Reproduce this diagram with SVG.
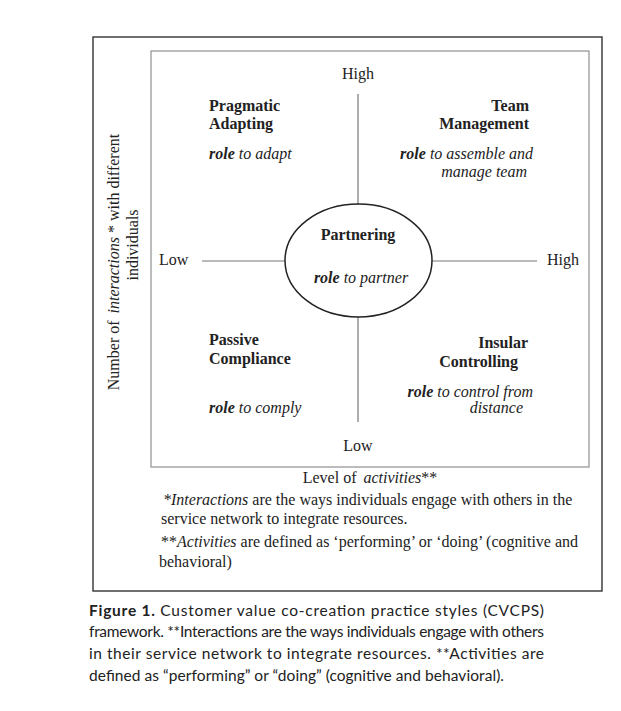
<svg xmlns="http://www.w3.org/2000/svg" width="621" height="711" viewBox="0 0 621 711">
<style>
.t{font-family:"Liberation Serif","Times New Roman",serif;font-size:16px;fill:#222}
.b{font-weight:bold}
.i{font-style:italic}
.r{text-anchor:end}
.m{text-anchor:middle}
.cap{font-family:"Lato","Open Sans",sans-serif;font-size:15.5px;fill:#222}
.ax{stroke:#777;stroke-width:1.2;fill:none}
</style>
<rect width="621" height="711" fill="#fff"/>
<rect x="93" y="37" width="509" height="554" fill="none" stroke="#333" stroke-width="1.4"/>
<rect x="151" y="51" width="438" height="416" fill="none" stroke="#999" stroke-width="1.3"/>
<g id="connectors">
<line class="ax" x1="358" y1="94" x2="358" y2="204"/>
<line class="ax" x1="358" y1="317" x2="358" y2="422"/>
<line class="ax" x1="202" y1="261" x2="285" y2="261"/>
<line class="ax" x1="432" y1="261" x2="537" y2="261"/>
</g>
<g id="axis-labels">
<text class="t m" x="358" y="79">High</text>
<text class="t m" x="358" y="451">Low</text>
<text class="t" x="159" y="265">Low</text>
<text class="t" x="547" y="265">High</text>
<text class="t m" x="370" y="483">Level of <tspan class="i" dx="3">activities</tspan>**</text>
<text class="t m" transform="translate(119,262) rotate(-90)">Number of <tspan class="i" dx="3">interactions</tspan> * with different</text>
<text class="t m" transform="translate(138,245) rotate(-90)">individuals</text>
</g>
<g id="pragmatic-adapting">
<text class="t b" x="209" y="111">Pragmatic</text>
<text class="t b" x="209" y="129">Adapting</text>
<text class="t i" x="209" y="159"><tspan class="b">role</tspan> to adapt</text>
</g>
<g id="team-management">
<text class="t b r" x="529" y="111">Team</text>
<text class="t b r" x="529" y="129">Management</text>
<text class="t i r" x="533" y="159"><tspan class="b">role</tspan> to assemble and</text>
<text class="t i r" x="527" y="177">manage team</text>
</g>
<g id="partnering">
<ellipse cx="358.5" cy="260.5" rx="73.5" ry="56.5" fill="#fff" stroke="#222" stroke-width="1.5"/>
<text class="t b m" x="358" y="240">Partnering</text>
<text class="t i m" x="361" y="283"><tspan class="b">role</tspan> to partner</text>
</g>
<g id="passive-compliance">
<text class="t b" x="209" y="345">Passive</text>
<text class="t b" x="209" y="364">Compliance</text>
<text class="t i" x="209" y="413"><tspan class="b">role</tspan> to comply</text>
</g>
<g id="insular-controlling">
<text class="t b r" x="528" y="348">Insular</text>
<text class="t b r" x="518" y="367">Controlling</text>
<text class="t i r" x="533" y="397"><tspan class="b">role</tspan> to control from</text>
<text class="t i r" x="523" y="413">distance</text>
</g>
<g id="footnotes">
<text class="t" x="163" y="505"><tspan class="i">*Interactions</tspan><tspan dx="4">are the ways individuals engage with others in the</tspan></text>
<text class="t" x="161" y="524">service network to integrate resources.</text>
<text class="t" x="161" y="547">**<tspan class="i">Activities</tspan> are defined as ‘performing’ or ‘doing’ (cognitive and</text>
<text class="t" x="159" y="567">behavioral)</text>
</g>
<g id="caption">
<text class="cap" x="89" y="616" textLength="455" lengthAdjust="spacing"><tspan font-weight="bold">Figure 1.</tspan> Customer value co-creation practice styles (CVCPS)</text>
<text class="cap" x="89" y="637" textLength="455" lengthAdjust="spacing">framework. **Interactions are the ways individuals engage with others</text>
<text class="cap" x="89" y="659" textLength="455" lengthAdjust="spacing">in their service network to integrate resources. **Activities are</text>
<text class="cap" x="89" y="681" textLength="415" lengthAdjust="spacing">defined as “performing” or “doing” (cognitive and behavioral).</text>
</g>
</svg>
